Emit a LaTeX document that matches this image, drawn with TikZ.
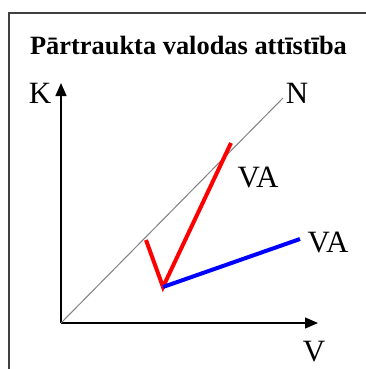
\documentclass[tikz,border=0pt]{standalone}
\usepackage{fontspec}
\setmainfont{Liberation Serif}
\usetikzlibrary{arrows.meta}
\tikzstyle{every node}=[inner sep=0pt,font=\fontsize{31}{34}\selectfont]
\tikzstyle{every path}=[line width=1.3pt,line join=miter]

\begin{document}
\begin{tikzpicture}[x=1pt,y=-1pt]
		\tikzstyle{arrow} = [-{Stealth[length=13pt, width=11pt, inset=0pt]}]
		\tikzstyle{lbl} = [anchor=base]
		\useasboundingbox (0,0) rectangle (366,369);
		
		% frame (only top and left edges are visible)
		\draw[black!75] (9,369) -- (9,13) -- (366,13);
		\node[lbl,font=\fontsize{26.4}{30}\selectfont\bfseries] (title) at (188.5,55) {Pārtraukta valodas attīstība};
		
		% axes
		\coordinate (O) at (61,323);
		\coordinate (Kend) at (61,83);
		\coordinate (Vend) at (318,323);
		\coordinate (Nend) at (283,98);
		\draw[arrow] (O) -- (Kend);
		\draw[arrow] (O) -- (Vend);
		\draw[gray,line width=1pt] (O) -- (Nend);
		\node[lbl] (K) at (40,103) {K};
		\node[lbl] (N) at (297,103) {N};
		\node[lbl] (V) at (314,361) {V};
		
		% language development
		\coordinate (break) at (146,240);
		\coordinate (low) at (163,287);
		\coordinate (redend) at (231,143);
		\coordinate (blueend) at (300,239);
		\draw[red,line width=4pt,line join=miter] (break) -- (low) -- (redend);
		\draw[blue,line width=4pt] (low) -- (blueend);
		\node[lbl] (VAred) at (258,187) {VA};
		\node[lbl] (VAblue) at (328,252) {VA};
		
	\end{tikzpicture}
\end{document}
